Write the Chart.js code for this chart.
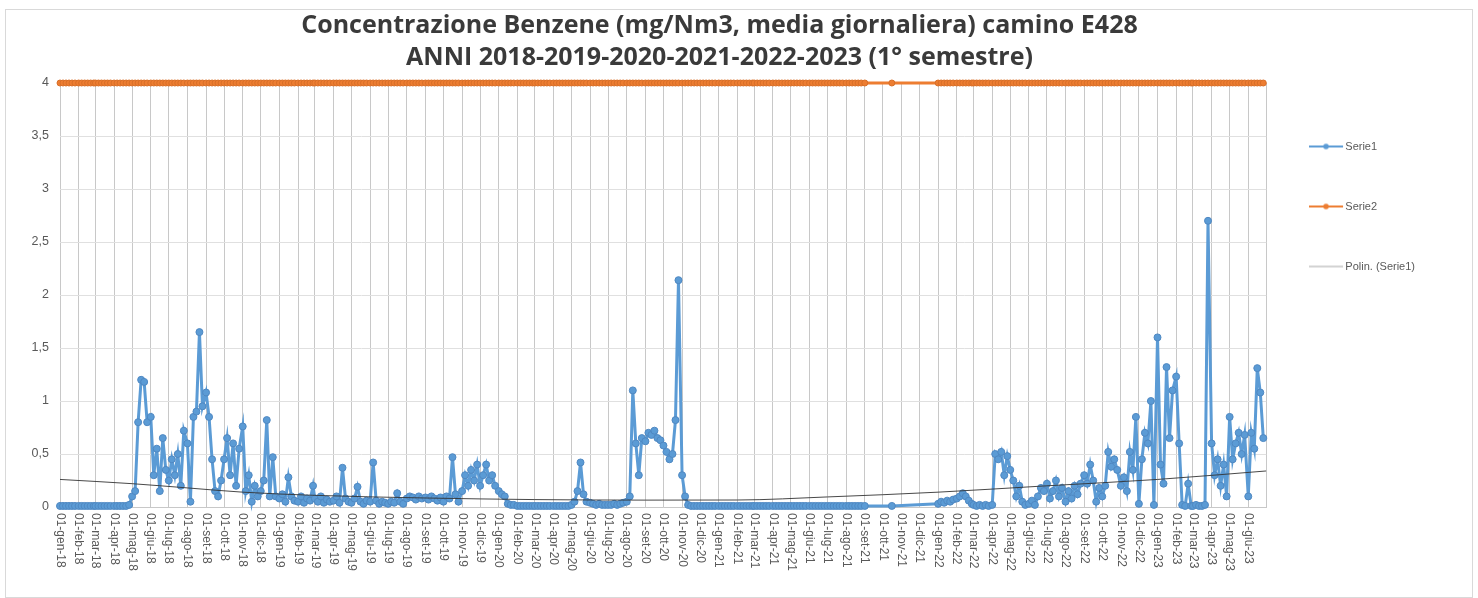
<!DOCTYPE html>
<html>
<head>
<meta charset="utf-8">
<script src="https://cdn.jsdelivr.net/npm/chart.js@4.4.0/dist/chart.umd.min.js"></script>
<style>
  body { margin: 0; background: #fff; }
  #wrap { position: absolute; left: 5px; top: 9px; width: 1466px; height: 587px; border: 1px solid #d9d9d9; }
</style>
</head>
<body>
<div id="wrap"><canvas id="chart"></canvas></div>
<script>
// month names used for the date tick labels
const monthNames = ['gen', 'feb', 'mar', 'apr', 'mag', 'giu', 'lug', 'ago', 'set', 'ott', 'nov', 'dic'];
const tickYears = [2018, 2019, 2020, 2021, 2022, 2023];
// sample days inside each month (one row = one month)
const sampleDays = [1, 6, 11, 16, 21, 26];

// Serie1 - daily benzene concentration (mg/Nm3)
const serie1_2018 = [
  [0.01, 0.01, 0.01, 0.01, 0.01, 0.01],
  [0.01, 0.01, 0.01, 0.01, 0.01, 0.01],
  [0.01, 0.01, 0.01, 0.01, 0.01, 0.01],
  [0.01, 0.01, 0.01, 0.01, 0.01, 0.02],
  [0.1, 0.15, 0.8, 1.2, 1.18, 0.8],
  [0.85, 0.3, 0.55, 0.15, 0.65, 0.35],
  [0.25, 0.45, 0.3, 0.5, 0.2, 0.72],
  [0.6, 0.05, 0.85, 0.9, 1.65, 0.95],
  [1.08, 0.85, 0.45, 0.15, 0.1, 0.25],
  [0.45, 0.65, 0.3, 0.6, 0.2, 0.55],
  [0.76, 0.15, 0.3, 0.05, 0.2, 0.1],
  [0.15, 0.25, 0.82, 0.1, 0.47, 0.1]
];
const serie1_2019 = [
  [0.08, 0.12, 0.05, 0.28, 0.1, 0.06],
  [0.05, 0.1, 0.04, 0.08, 0.06, 0.2],
  [0.08, 0.05, 0.1, 0.04, 0.07, 0.05],
  [0.06, 0.1, 0.04, 0.37, 0.08, 0.05],
  [0.04, 0.08, 0.19, 0.05, 0.03, 0.06],
  [0.05, 0.42, 0.06, 0.03, 0.05, 0.04],
  [0.03, 0.05, 0.04, 0.13, 0.05, 0.03],
  [0.08, 0.1, 0.09, 0.07, 0.1, 0.08],
  [0.09, 0.07, 0.1, 0.08, 0.06, 0.09],
  [0.05, 0.1, 0.08, 0.47, 0.12, 0.05],
  [0.15, 0.3, 0.2, 0.35, 0.25, 0.4],
  [0.2, 0.3, 0.4, 0.25, 0.3, 0.2]
];
const serie1_2020 = [
  [0.15, 0.12, 0.1, 0.03, 0.02, 0.02],
  [0.01, 0.01, 0.01, 0.01, 0.01, 0.01],
  [0.01, 0.01, 0.01, 0.01, 0.01, 0.01],
  [0.01, 0.01, 0.01, 0.01, 0.01, 0.01],
  [0.02, 0.05, 0.15, 0.42, 0.12, 0.05],
  [0.04, 0.03, 0.02, 0.03, 0.02, 0.02],
  [0.02, 0.02, 0.03, 0.02, 0.03, 0.04],
  [0.05, 0.1, 1.1, 0.6, 0.3, 0.65],
  [0.62, 0.7, 0.68, 0.72, 0.65, 0.63],
  [0.58, 0.52, 0.45, 0.5, 0.82, 2.14],
  [0.3, 0.1, 0.02, 0.01, 0.01, 0.01],
  [0.01, 0.01, 0.01, 0.01, 0.01, 0.01]
];
const serie1_2021 = [
  [0.01, 0.01, 0.01, 0.01, 0.01, 0.01],
  [0.01, 0.01, 0.01, 0.01, 0.01, 0.01],
  [0.01, 0.01, 0.01, 0.01, 0.01, 0.01],
  [0.01, 0.01, 0.01, 0.01, 0.01, 0.01],
  [0.01, 0.01, 0.01, 0.01, 0.01, 0.01],
  [0.01, 0.01, 0.01, 0.01, 0.01, 0.01],
  [0.01, 0.01, 0.01, 0.01, 0.01, 0.01],
  [0.01, 0.01, 0.01, 0.01, 0.01, 0.01],
  [0.01, null, null, null, null, null],
  [null, null, null, 0.01, null, null],
  [null, null, null, null, null, null],
  [null, null, null, null, null, null]
];
const serie1_2022 = [
  [0.03, 0.05, 0.04, 0.06, 0.05, 0.07],
  [0.08, 0.1, 0.13, 0.1, 0.06, 0.03],
  [0.02, 0.01, 0.02, 0.01, 0.02, 0.01],
  [0.02, 0.5, 0.45, 0.52, 0.3, 0.48],
  [0.35, 0.25, 0.1, 0.2, 0.05, 0.02],
  [0.03, 0.06, 0.02, 0.1, 0.18, 0.15],
  [0.22, 0.08, 0.15, 0.25, 0.1, 0.18],
  [0.05, 0.15, 0.08, 0.2, 0.12, 0.22],
  [0.3, 0.22, 0.4, 0.25, 0.05, 0.18],
  [0.1, 0.2, 0.52, 0.38, 0.45, 0.35],
  [0.2, 0.28, 0.15, 0.52, 0.35, 0.85],
  [0.03, 0.45, 0.7, 0.6, 1.0, 0.02]
];
const serie1_2023 = [
  [1.6, 0.4, 0.22, 1.32, 0.65, 1.1],
  [1.23, 0.6, 0.02, 0.01, 0.22, 0.01],
  [0.01, 0.02, 0.01, 0.01, 0.02, 2.7],
  [0.6, 0.3, 0.45, 0.2, 0.4, 0.1],
  [0.85, 0.45, 0.6, 0.7, 0.5, 0.68],
  [0.1, 0.7, 0.55, 1.31, 1.08, 0.65]
];

// Serie2 - limit value, drawn on every sampled day
const serie2Limit = 4;

// Polin. (Serie1) - trend line: [month index from gen-18, value]
const trendMonths = [0, 4, 7, 10, 14, 20, 26, 32, 37, 42, 48, 54, 60, 66];
const trendValues = [0.26, 0.22, 0.18, 0.14, 0.11, 0.085, 0.07, 0.065, 0.066, 0.095, 0.14, 0.2, 0.26, 0.34];

const serie1ByYear = [
  [2018, serie1_2018], [2019, serie1_2019], [2020, serie1_2020],
  [2021, serie1_2021], [2022, serie1_2022], [2023, serie1_2023]
];

const t0 = Date.UTC(2018, 0, 1);
function dayIndex(y, m, d) {
  return Math.round((Date.UTC(y, m, d) - t0) / 86400000);
}

const pts1 = [];
const pts2 = [];
serie1ByYear.forEach(([yr, rows]) => {
  rows.forEach((row, mi) => {
    row.forEach((v, k) => {
      if (v === null) return;
      const x = dayIndex(yr, mi, sampleDays[k]);
      pts1.push({ x: x, y: v });
      pts2.push({ x: x, y: serie2Limit });
    });
  });
});

const trendPts = trendMonths.map((m, i) => ({
  x: dayIndex(2018 + Math.floor(m / 12), m % 12, 1),
  y: trendValues[i]
}));

// month ticks 01-gen-18 ... 01-giu-23, plus the closing line at 01-lug-23
const tickValues = [];
const tickLabels = [];
tickYears.forEach(yr => {
  monthNames.forEach((mn, mi) => {
    if (yr === 2023 && mi > 5) return;
    tickValues.push(dayIndex(yr, mi, 1));
    tickLabels.push('01-' + mn + '-' + String(yr).slice(2));
  });
});
const xMax = dayIndex(2023, 6, 1);

// legend symbol: line with a marker, offset so it sits left of the text
function legendMark(color, dot, lw) {
  const c = document.createElement('canvas');
  c.width = 37; c.height = 8;
  const g = c.getContext('2d');
  g.strokeStyle = color;
  g.lineWidth = lw;
  g.beginPath(); g.moveTo(0, 4); g.lineTo(34, 4); g.stroke();
  if (dot) {
    g.fillStyle = color;
    g.beginPath(); g.arc(17, 4, 2.8, 0, Math.PI * 2); g.fill();
  }
  return c;
}
const marks = [legendMark('#5B9BD5', true, 2), legendMark('#ED7D31', true, 2), legendMark('#a6a6a6', false, 1)];

const rotatedXLabels = {
  id: 'rotatedXLabels',
  afterDraw(chart) {
    const xs = chart.scales.x;
    const ctx = chart.ctx;
    ctx.save();
    ctx.font = '12px "Liberation Sans", Arial, sans-serif';
    ctx.fillStyle = '#595959';
    ctx.textAlign = 'left';
    ctx.textBaseline = 'middle';
    tickValues.forEach((v, i) => {
      const px = xs.getPixelForValue(v);
      ctx.save();
      ctx.translate(px, xs.top + 6);
      ctx.rotate(Math.PI / 2);
      ctx.fillText(tickLabels[i], 0, 0);
      ctx.restore();
    });
    ctx.restore();
  }
};

new Chart(document.getElementById('chart'), {
  type: 'line',
  data: {
    datasets: [
      {
        label: 'Serie1',
        data: pts1,
        borderColor: '#5B9BD5',
        backgroundColor: '#5B9BD5',
        borderWidth: 3,
        pointRadius: 3.5,
        pointBorderWidth: 1,
        pointBorderColor: '#4f88c2',
        pointBackgroundColor: '#5B9BD5',
        clip: false,
        order: 2
      },
      {
        label: 'Serie2',
        data: pts2,
        borderColor: '#ED7D31',
        backgroundColor: '#ED7D31',
        borderWidth: 3,
        pointRadius: 3,
        pointBorderWidth: 1,
        pointBorderColor: '#d86f28',
        pointBackgroundColor: '#ED7D31',
        clip: false,
        order: 1
      },
      {
        label: 'Polin. (Serie1)',
        data: trendPts,
        borderColor: '#333333',
        borderWidth: 0.9,
        pointRadius: 0,
        cubicInterpolationMode: 'monotone',
        order: 0
      }
    ]
  },
  options: {
    responsive: true,
    maintainAspectRatio: false,
    animation: false,
    layout: { padding: { left: 8, right: 47, top: 0, bottom: 10 } },
    plugins: {
      tooltip: { enabled: false },
      title: {
        display: true,
        text: [
          'Concentrazione Benzene (mg/Nm3, media giornaliera) camino E428',
          'ANNI 2018-2019-2020-2021-2022-2023 (1° semestre)'
        ],
        color: '#3a3a3a',
        font: { family: '"Open Sans", sans-serif', size: 25, weight: 'bold', lineHeight: 1.28 },
        padding: { top: 0, bottom: 9 }
      },
      legend: {
        position: 'right',
        align: 'start',
        fullSize: false,
        title: { display: true, text: ' ', font: { size: 1, lineHeight: 1 }, padding: { top: 8, bottom: 0 } },
        labels: {
          usePointStyle: true,
          pointStyleWidth: 24.5,
          padding: 49,
          color: '#595959',
          font: { family: '"Liberation Sans", Arial, sans-serif', size: 11 },
          generateLabels: chart => chart.data.datasets.map((ds, i) => ({
            text: ds.label,
            pointStyle: marks[i],
            fillStyle: ds.borderColor,
            strokeStyle: ds.borderColor,
            lineWidth: 0,
            hidden: false,
            datasetIndex: i,
            fontColor: '#595959'
          }))
        }
      }
    },
    scales: {
      x: {
        type: 'linear',
        min: 0,
        max: xMax,
        afterBuildTicks: scale => {
          scale.ticks = tickValues.concat([xMax]).map(v => ({ value: v }));
        },
        afterFit: scale => { scale.height = 80; },
        ticks: {
          autoSkip: false,
          maxRotation: 0,
          color: 'rgba(0,0,0,0)',
          callback: () => ''
        },
        grid: { color: '#c8c8c8', drawTicks: false },
        border: { color: '#c8c8c8' }
      },
      y: {
        min: 0,
        max: 4,
        afterFit: scale => { scale.width = 46; },
        ticks: {
          stepSize: 0.5,
          padding: 11,
          color: '#595959',
          font: { family: '"Liberation Sans", Arial, sans-serif', size: 12.5 },
          callback: v => String(v).replace('.', ',')
        },
        grid: { color: '#e0e0e0', drawTicks: false },
        border: { display: false }
      }
    }
  },
  plugins: [rotatedXLabels]
});
</script>
</body>
</html>
